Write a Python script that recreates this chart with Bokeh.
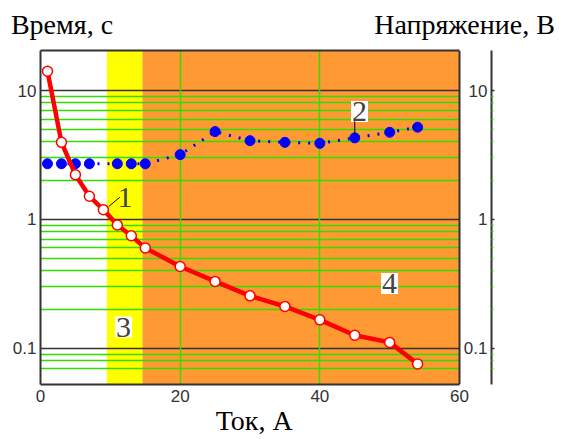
from bokeh.plotting import figure
from bokeh.models import Range1d, LogAxis, LinearAxis, FixedTicker, Grid, Span, Label
from bokeh.embed import file_html
from bokeh.resources import INLINE
from bokeh.core.properties import value

# ---- data ----
current_time = [1, 3, 5, 7, 9, 11, 13, 15, 20, 25, 30, 35, 40, 45, 50, 54]
time_s = [14.1, 3.96, 2.22, 1.51, 1.19, 0.905, 0.747, 0.60, 0.431, 0.33,
          0.255, 0.211, 0.166, 0.126, 0.111, 0.0756]

current_volt = [1, 3, 5, 7, 11, 13, 15, 20, 25, 30, 35, 40, 45, 50, 54]
voltage = [2.7, 2.7, 2.7, 2.7, 2.7, 2.7, 2.7, 3.18, 4.8, 4.08, 3.96, 3.89,
           4.29, 4.74, 5.19]

zone_left = [9.5, 14.6]
zone_right = [14.6, 60]
zone_colors = ["#FFFF00", "#FF9933"]

x_ticks = [0, 20, 40, 60]
x_grid = [20, 40]
y_ticks = [0.1, 1, 10]
y_tick_labels = ["0.1", "1", "10"]
y_minor = [0.07, 0.08, 0.09, 0.2, 0.3, 0.4, 0.5, 0.6, 0.7, 0.8, 0.9,
           2, 3, 4, 5, 6, 7, 8, 9]

y_title = "Время, с"
y2_title = "Напряжение, В"
x_title = "Ток, А"

# ---- styles ----
FONT = "Liberation Serif"
TICK_FONT = "Liberation Sans"
TICK_COLOR = "#333333"
DARK = "#333333"
GREEN = "#33DD00"
RED = "#FF0000"
BLUE = "#0000FF"

X0, X1 = 0, 64.58
XMAX = 60
Y0, Y1 = 0.0523, 20.44
PX_PER_X = 451 / (X1 - X0)

p = figure(width=562, height=439, x_range=Range1d(X0, X1), y_range=Range1d(Y0, Y1),
           y_axis_type="log", output_backend="svg", toolbar_location=None,
           min_border_left=40, min_border_right=71, min_border_top=50, min_border_bottom=55)
p.outline_line_color = None
p.background_fill_color = "white"
p.border_fill_color = "white"
p.xgrid.visible = False
p.ygrid.visible = False

# background zones
p.quad(left=zone_left, right=zone_right, bottom=Y0, top=Y1, fill_color=zone_colors,
       line_color=None, level="image")

# grids
p.add_layout(Grid(dimension=1, ticker=FixedTicker(ticks=y_minor), grid_line_color=GREEN,
                  grid_line_width=1.5, cross_bounds=(0, XMAX)))
p.add_layout(Grid(dimension=1, ticker=FixedTicker(ticks=y_ticks), grid_line_color=DARK,
                  grid_line_width=1.5, cross_bounds=(0, XMAX)))
p.add_layout(Grid(dimension=0, ticker=FixedTicker(ticks=x_grid), grid_line_color=GREEN,
                  grid_line_width=1.5))

# bottom axis
xa = p.xaxis[0]
xa.ticker = FixedTicker(ticks=x_ticks)
xa.bounds = (0, XMAX)
xa.major_tick_line_color = None
xa.minor_tick_line_color = None
xa.major_tick_out = 0
xa.minor_tick_out = 0
xa.axis_line_color = DARK
xa.axis_line_width = 2
xa.major_label_text_font = TICK_FONT
xa.major_label_text_font_size = "17px"
xa.major_label_text_color = TICK_COLOR
xa.major_label_standoff = 5

# x-axis title, placed as a single tick label under the axis
xt = LinearAxis(ticker=FixedTicker(ticks=[30.6]), major_label_overrides={30.6: x_title},
                axis_line_color=None, major_tick_line_color=None, minor_tick_line_color=None,
                major_tick_out=0, minor_tick_out=0, major_label_standoff=0,
                major_label_text_font=FONT, major_label_text_font_size="28px",
                major_label_text_color="black")
p.add_layout(xt, "below")

# left axis
ya = p.yaxis[0]
ya.ticker = FixedTicker(ticks=y_ticks)
ya.major_label_overrides = dict(zip(y_ticks, y_tick_labels))
ya.major_tick_line_color = None
ya.minor_tick_line_color = None
ya.major_tick_out = 0
ya.minor_tick_out = 0
ya.axis_line_color = DARK
ya.axis_line_width = 2
ya.major_label_text_font = TICK_FONT
ya.major_label_text_font_size = "17px"
ya.major_label_text_color = TICK_COLOR
ya.major_label_standoff = 4

# top border of plot box
ta = LinearAxis(ticker=FixedTicker(ticks=[]), bounds=(0, XMAX), axis_line_color=DARK,
                axis_line_width=2, major_tick_line_color=None, minor_tick_line_color=None,
                major_tick_out=0, minor_tick_out=0, major_label_standoff=0)
p.add_layout(ta, "above")

# the two axis titles at the top, as tick labels of a bare top axis
tt = LinearAxis(ticker=FixedTicker(ticks=[3.08, 60.72]),
                major_label_overrides={3.08: y_title, 60.72: y2_title},
                axis_line_color=None, major_tick_line_color=None, minor_tick_line_color=None,
                major_tick_out=0, minor_tick_out=0, major_label_standoff=11,
                major_label_text_font=FONT, major_label_text_font_size="28px",
                major_label_text_color="black")
p.add_layout(tt, "above")

# right border of plot box
p.add_layout(Span(location=XMAX, dimension="height", line_color=DARK, line_width=2))

# right (voltage) axis
ra = LogAxis(ticker=FixedTicker(ticks=y_ticks, minor_ticks=y_minor))
ra.major_label_overrides = {t: "" for t in y_ticks}
ra.axis_line_color = DARK
ra.axis_line_width = 2
ra.major_tick_out = 3
ra.major_tick_in = 0
ra.major_tick_line_color = DARK
ra.major_tick_line_width = 1.5
ra.minor_tick_out = 2
ra.minor_tick_in = 0
ra.minor_tick_line_color = GREEN
ra.minor_tick_line_width = 1.5
p.add_layout(ra, "right")
p.text(x=[X1 - 4 / PX_PER_X] * len(y_ticks), y=y_ticks, text=y_tick_labels,
       text_align="right", text_baseline="middle", text_font=value(TICK_FONT),
       text_font_size="17px", text_color=TICK_COLOR)

# series 2 (voltage)
p.line(current_volt, voltage, line_color=BLUE, line_width=3, line_dash="2 8")
p.scatter(current_volt, voltage, size=10, fill_color=BLUE, line_color=BLUE)

# series 1 (time)
p.line(current_time, time_s, line_color=RED, line_width=4.5)
p.scatter(current_time, time_s, size=10, marker="circle", fill_color="white",
          line_color=RED, line_width=1.5)

# callouts
p.segment(x0=[9.78], y0=[1.258], x1=[11.36], y1=[1.486], line_color="black", line_width=1)
p.add_layout(Label(x=12.1, y=1.478, text="1", text_align="center", text_baseline="middle",
                   text_font=FONT, text_font_size="30px"))
p.add_layout(Label(x=45.68, y=6.87, text="2", text_align="center", text_baseline="middle",
                   text_font=FONT, text_font_size="30px", background_fill_color="white",
                   padding=1))
p.segment(x0=[45.0], y0=[5.78], x1=[45.0], y1=[4.48], line_color="black", line_width=1,
          level="overlay")
p.add_layout(Label(x=11.89, y=0.146, text="3", text_align="center", text_baseline="middle",
                   text_font=FONT, text_font_size="30px", background_fill_color="white",
                   padding=1))
p.add_layout(Label(x=49.98, y=0.3177, text="4", text_align="center", text_baseline="middle",
                   text_font=FONT, text_font_size="30px", background_fill_color="white",
                   padding=1))

open("out.html", "w").write(file_html(p, INLINE))
